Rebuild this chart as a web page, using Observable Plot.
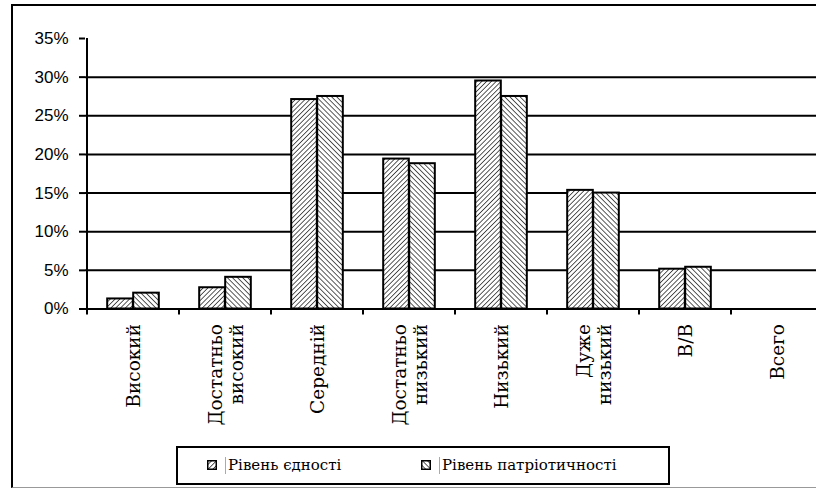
<!DOCTYPE html>
<html>
<head>
<meta charset="utf-8">
<script src="https://cdn.jsdelivr.net/npm/d3@7"></script>
<script src="https://cdn.jsdelivr.net/npm/@observablehq/plot@0.6"></script>
<style>
  html, body { margin: 0; padding: 0; background: #fff; overflow: hidden; }
  #page { position: relative; width: 816px; height: 488px; overflow: hidden; background: #fff; }
  #chart { position: absolute; left: 0; top: 0; }
  #frame { position: absolute; left: 11px; top: 4px; width: 900px; height: 481px;
           border-left: 2px solid #000; border-top: 2px solid #000; border-bottom: 1px solid #999;
           pointer-events: none; z-index: 3; }
  #legend { position: absolute; left: 176px; top: 446px; width: 490px; height: 35px;
            border: 2px solid #000; background: #fff; z-index: 2;
            font-family: 'DejaVu Serif', serif; font-size: 15px; color: #000; }
  .item { position: absolute; top: 8px; display: flex; align-items: center; }
  .item svg { display: block; }
  .bar { width: 1px; height: 17px; background: #aaa; margin: 0 2px 0 8px; }
</style>
</head>
<body>
<svg width="0" height="0" style="position:absolute">
  <defs>
    <pattern id="hatchA" patternUnits="userSpaceOnUse" width="3.4" height="3.4" patternTransform="rotate(45)">
      <rect width="3.4" height="3.4" fill="#fff"></rect>
      <line x1="0" y1="0" x2="0" y2="3.4" stroke="#000" stroke-width="1.3"></line>
    </pattern>
    <pattern id="hatchB" patternUnits="userSpaceOnUse" width="3.6" height="3.6" patternTransform="rotate(-45)">
      <rect width="3.6" height="3.6" fill="#fff"></rect>
      <line x1="0" y1="0" x2="0" y2="3.6" stroke="#000" stroke-width="1.3"></line>
    </pattern>
  </defs>
</svg>
<div id="page">
  <div id="chart"></div>
  <div id="frame"></div>
  <div id="legend"></div>
</div>
<script>
// ---- data ----
const categories = ["Високий", "Достатньо високий", "Середній", "Достатньо низький", "Низький", "Дуже низький", "В/В", "Всего"];
const categoryLabels = ["Високий", "Достатньо\nвисокий", "Середній", "Достатньо\nнизький", "Низький", "Дуже\nнизький", "В/В", "Всего"];
const seriesNames = ["Рівень єдності", "Рівень патріотичності"];
const unityValues = [1.3, 2.75, 27.1, 19.4, 29.5, 15.35, 5.15, 0];
const patriotismValues = [2.05, 4.1, 27.5, 18.8, 27.5, 15.0, 5.4, 0];
const yTicks = [0, 5, 10, 15, 20, 25, 30, 35];
const gridValues = [5, 10, 15, 20, 25, 30];

const rowsA = categories.map((c, i) => ({cat: c, value: unityValues[i]}));
const rowsB = categories.map((c, i) => ({cat: c, value: patriotismValues[i]}));
const labelRows = categories.map((c, i) => ({cat: c, label: categoryLabels[i]}));

const W = 816, H = 440;
const xRange = [85, 824];
const band = (xRange[1] - xRange[0]) / categories.length;
const barW = 26;
const half = band / 2;
const serif = "DejaVu Serif";

// axis line + category boundary ticks drawn from the scales
function axisExtras(index, scales) {
  const g = d3.create("svg:g");
  const x0 = scales.x(categories[0]);
  g.append("line").attr("x1", x0).attr("x2", x0)
    .attr("y1", scales.y(0)).attr("y2", scales.y(35))
    .attr("stroke", "#000").attr("stroke-width", 2);
  for (const c of categories) {
    const xb = scales.x(c);
    g.append("line").attr("x1", xb).attr("x2", xb)
      .attr("y1", scales.y(0)).attr("y2", scales.y(0) + 6)
      .attr("stroke", "#000").attr("stroke-width", 2);
  }
  return g.node();
}

const plot = Plot.plot({
  width: W,
  height: H,
  marginTop: 38,
  marginBottom: H - 308.5,
  marginLeft: 85,
  marginRight: 0,
  style: {background: "transparent", color: "#000", overflow: "visible"},
  x: {domain: categories, range: xRange, padding: 0, axis: null},
  y: {domain: [0, 35], axis: null},
  marks: [
    Plot.ruleY(gridValues, {stroke: "#000", strokeWidth: 2}),
    Plot.ruleY([0], {stroke: "#000", strokeWidth: 2}),
    Plot.barY(rowsA, {x: "cat", y: "value", fill: "url(#hatchA)", stroke: "#000", strokeWidth: 2,
      insetLeft: half - barW, insetRight: half}),
    Plot.barY(rowsB, {x: "cat", y: "value", fill: "url(#hatchB)", stroke: "#000", strokeWidth: 2,
      insetLeft: half, insetRight: half - barW}),
    Plot.axisY({ticks: yTicks, tickSize: 6, tickPadding: 11, tickFormat: d => d + "%",
      label: null, fontSize: 17, fontFamily: "'Liberation Sans', Arial, sans-serif",
      stroke: "#000", strokeWidth: 2, fill: "#000"}),
    axisExtras,
    Plot.text(labelRows, {x: "cat", y: () => 0, text: "label", rotate: -90, textAnchor: "end",
      lineAnchor: "middle", lineHeight: 1.12, dy: 15, fontSize: 18.5,
      fontFamily: serif, fill: "#000"})
  ]
});
document.getElementById("chart").appendChild(plot);

// legend
const legend = d3.select("#legend");
const legendPos = [29, 243];
seriesNames.forEach((name, i) => {
  const item = legend.append("div").attr("class", "item").style("left", legendPos[i] + "px");
  const sw = item.append("svg").attr("width", 10).attr("height", 10);
  sw.append("rect").attr("x", 0.75).attr("y", 0.75).attr("width", 8.5).attr("height", 8.5)
    .attr("fill", i === 0 ? "url(#hatchA)" : "url(#hatchB)").attr("stroke", "#000").attr("stroke-width", 1.5);
  item.append("div").attr("class", "bar");
  item.append("span").text(name);
});
</script>
</body>
</html>
